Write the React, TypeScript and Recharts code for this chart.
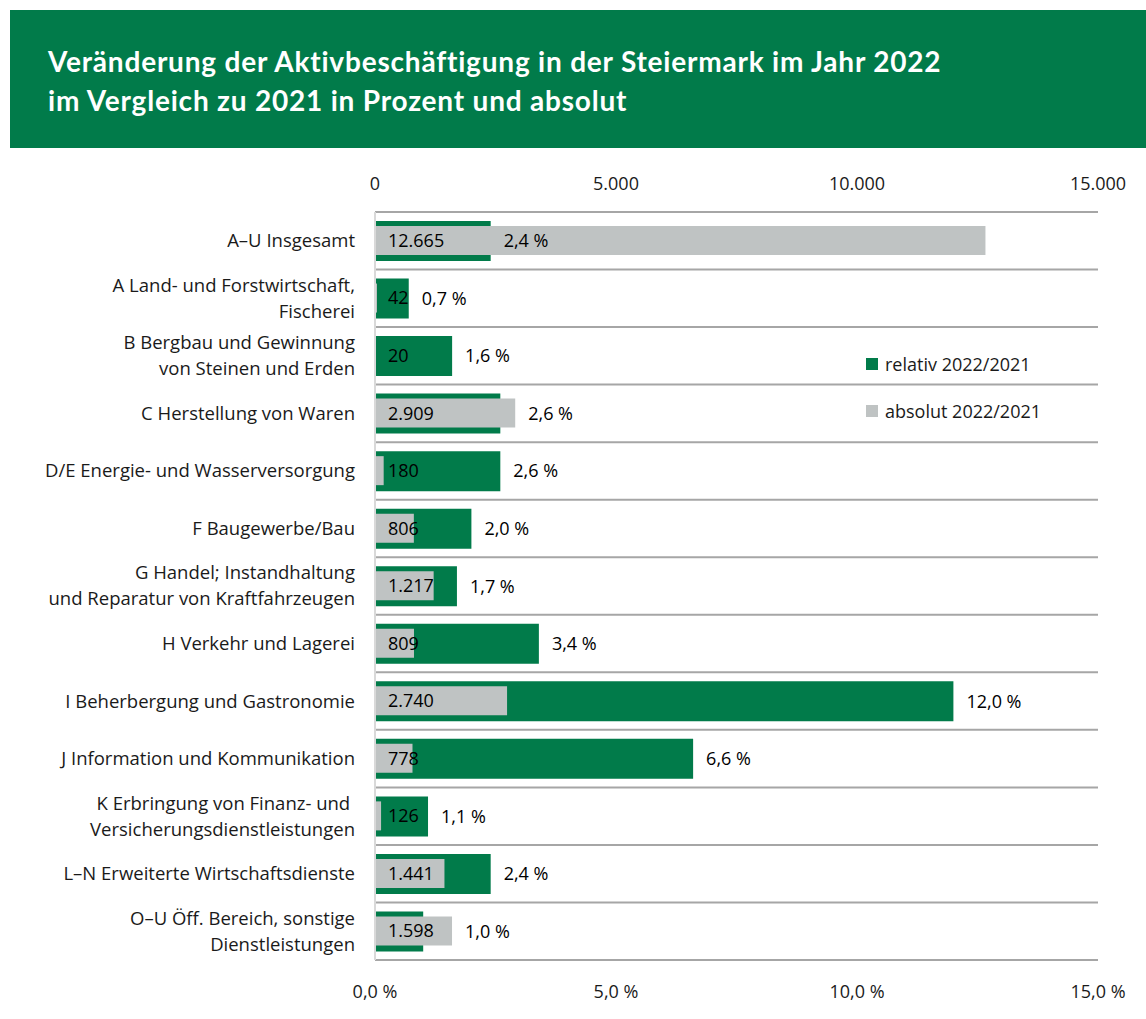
import React from 'react';
import {
  BarChart, Bar, XAxis, YAxis, CartesianGrid, Legend, LabelList
} from 'recharts';

const CATEGORIES = [
  'A–U Insgesamt',
  'A Land- und Forstwirtschaft,\nFischerei ',
  'B Bergbau und Gewinnung\nvon Steinen und Erden',
  'C Herstellung von Waren',
  'D/E Energie- und Wasserversorgung',
  'F Baugewerbe/Bau',
  'G Handel; Instandhaltung\nund Reparatur von Kraftfahrzeugen',
  'H Verkehr und Lagerei',
  'I Beherbergung und Gastronomie',
  'J Information und Kommunikation',
  'K Erbringung von Finanz- und \nVersicherungsdienstleistungen',
  'L–N Erweiterte Wirtschaftsdienste',
  'O–U Öff. Bereich, sonstige\nDienstleistungen',
];
const RELATIV = [2.4, 0.7, 1.6, 2.6, 2.6, 2.0, 1.7, 3.4, 12.0, 6.6, 1.1, 2.4, 1.0];
const ABSOLUT = [12665, 42, 20, 2909, 180, 806, 1217, 809, 2740, 778, 126, 1441, 1598];
const ABS_TICKS = [0, 5000, 10000, 15000];
const PCT_TICKS = [0, 5, 10, 15];

const GREEN = '#017B4A';
const GREY = '#BFC3C3';
const TEXT = '#1a1a1a';
const FS = 18;

const SERIES = [
  { name: 'relativ 2022/2021', color: GREEN },
  { name: 'absolut 2022/2021', color: GREY },
];

const data = CATEGORIES.map((name, i) => ({ name, relativ: RELATIV[i], absolut: ABSOLUT[i] }));

const fmtAbs = (v: number) => String(v).replace(/\B(?=(\d{3})+(?!\d))/g, '.');
const fmtPct = (v: number) => v.toFixed(1).replace('.', ',') + ' %';

// percent label sits after the green bar, or after the grey bar when that one
// only sticks out a little beyond the green one
const pctAnchor = (d: any) => {
  const g = d.absolut / 1000;
  return g > d.relativ && g - d.relativ < 2 ? g : d.relativ;
};

const CategoryTick = ({ x, y, payload }: any) => {
  const lines = String(payload.value).split('\n');
  const lh = 26;
  return (
    <text x={x} y={y} textAnchor="end" fill={TEXT} fontSize={18.5}>
      {lines.map((l, i) => (
        <tspan key={i} x={x} y={y + (i - (lines.length - 1) / 2) * lh} dy="0.35em">{l}</tspan>
      ))}
    </text>
  );
};

const PctLabel = ({ x, y, width, height, index }: any) => (
  <text x={x + width + 13} y={y + height / 2} dy="0.35em" fill="#000" fontSize={FS}>
    {fmtPct(RELATIV[index])}
  </text>
);

const LegendBox = () => (
  <div>
    {SERIES.map((s) => (
      <div key={s.name} style={{ display: 'flex', alignItems: 'center', height: 47, fontSize: FS, color: TEXT }}>
        <span style={{ width: 12, height: 12, background: s.color, marginRight: 7 }} />
        {s.name}
      </div>
    ))}
  </div>
);

const horizontalLines = ({ offset }: any) => {
  const n = CATEGORIES.length;
  return Array.from({ length: n + 1 }, (_, i) => offset.top + (offset.height * i) / n);
};

export default function App() {
  return (
    <div style={{ position: 'absolute', left: 0, top: 0, width: 1146, height: 1019, background: '#fff', fontFamily: '"Open Sans", sans-serif' }}>
      <div style={{ position: 'absolute', left: 10, top: 10, width: 1136, height: 138, background: GREEN }}>
        <div style={{ position: 'absolute', left: 38, top: 32, color: '#fff', fontFamily: 'Lato, sans-serif', fontWeight: 700, fontSize: 28, letterSpacing: 0.8, lineHeight: '39px' }}>
          Veränderung der Aktivbeschäftigung in der Steiermark im Jahr 2022<br />
          im Vergleich zu 2021 in Prozent und absolut
        </div>
      </div>
      <div style={{ position: 'absolute', left: 0, top: 0 }}>
        <BarChart
          width={1146}
          height={1019}
          data={data}
          layout="vertical"
          margin={{ top: 160, right: 48, bottom: 14, left: 0 }}
          barCategoryGap={0}
        >
          <CartesianGrid
            vertical={false}
            stroke="#A6A6A6"
            strokeWidth={2}
            yAxisId="cat"
            xAxisId="pct"
            horizontalCoordinatesGenerator={horizontalLines}
          />
          <XAxis
            xAxisId="abs"
            type="number"
            orientation="top"
            domain={[0, 15000]}
            ticks={ABS_TICKS}
            tickFormatter={fmtAbs}
            axisLine={false}
            tickLine={false}
            tickSize={0}
            tickMargin={22}
            height={52}
            tick={{ fill: TEXT, fontSize: FS }}
            interval={0}
          />
          <XAxis
            xAxisId="pct"
            type="number"
            orientation="bottom"
            domain={[0, 15]}
            ticks={PCT_TICKS}
            tickFormatter={fmtPct}
            axisLine={false}
            tickLine={false}
            tickSize={0}
            tickMargin={25}
            height={45}
            tick={{ fill: TEXT, fontSize: FS }}
            interval={0}
          />
          <XAxis xAxisId="pctLabel" type="number" domain={[0, 15]} hide />
          <YAxis
            yAxisId="cat"
            type="category"
            dataKey="name"
            width={375}
            axisLine={{ stroke: '#D9D9D9', strokeWidth: 2 }}
            tickLine={false}
            tickSize={0}
            tickMargin={20}
            tick={<CategoryTick />}
            interval={0}
          />
          <YAxis yAxisId="cat2" type="category" dataKey="name" width={375} hide />
          <YAxis yAxisId="cat3" type="category" dataKey="name" width={375} hide />
          <Legend
            layout="horizontal"
            verticalAlign="middle"
            align="center"
            content={<LegendBox />}
            wrapperStyle={{ position: 'absolute', left: 866, top: 340, width: 240 }}
          />
          <Bar
            dataKey="relativ"
            name="relativ 2022/2021"
            xAxisId="pct"
            yAxisId="cat"
            fill={GREEN}
            barSize={40}
            isAnimationActive={false}
          />
          <Bar
            dataKey="absolut"
            name="absolut 2022/2021"
            xAxisId="abs"
            yAxisId="cat2"
            fill={GREY}
            barSize={29}
            isAnimationActive={false}
          >
            <LabelList dataKey="absolut" position="insideLeft" offset={13} formatter={(v: any) => fmtAbs(Number(v))} fill="#000" fontSize={FS} />
          </Bar>
          <Bar
            dataKey={pctAnchor}
            xAxisId="pctLabel"
            yAxisId="cat3"
            fill="transparent"
            barSize={40}
            legendType="none"
            isAnimationActive={false}
          >
            <LabelList content={<PctLabel />} />
          </Bar>
        </BarChart>
      </div>
    </div>
  );
}
